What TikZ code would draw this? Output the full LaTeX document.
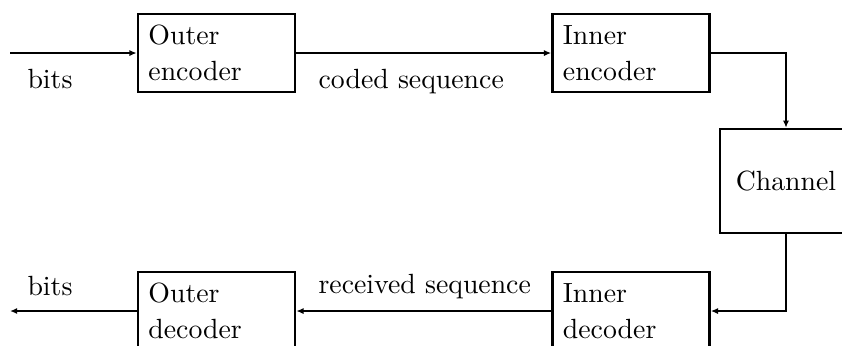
\documentclass[tikz,border=0pt]{standalone}
\usetikzlibrary{arrows.meta}
\begin{document}
\begin{tikzpicture}[x=0.36pt,y=-0.36pt,
  blk/.style={draw,line width=0.95pt,minimum width=56.5pt,minimum height=28.1pt,
    text width=49pt,align=left,inner sep=3.6pt,font=\fontsize{10}{13}\selectfont},
  chanbox/.style={draw,line width=0.95pt,minimum width=47.5pt,minimum height=37.4pt,inner sep=0pt},
  lbl/.style={inner sep=0pt,anchor=base west},
  conn/.style={line width=0.9pt,-{Latex[length=2.6pt,width=2.2pt]}}]
\useasboundingbox (0,0) rectangle (842,345);
\clip (0,0) rectangle (842,345);
\node[blk] (oenc) at (216.5,53) {Outer\\encoder};
\node[blk] (ienc) at (631,53) {Inner\\encoder};
\node[chanbox] (chan) at (786,181) {Channel};
\node[blk] (idec) at (631,311) {Inner\\decoder};
\node[blk] (odec) at (216.5,311) {Outer\\decoder};
\coordinate (in) at (10,53);
\coordinate (out) at (10,311);
\draw[conn] (in) -- (oenc.west);
\draw[conn] (oenc.east) -- (ienc.west);
\draw[conn] (ienc.east) -| (chan.north);
\draw[conn] (chan.south) |- (idec.east);
\draw[conn] (idec.west) -- (odec.east);
\draw[conn] (odec.west) -- (out);
\node[lbl] (b1) at (27,88) {bits};
\node[lbl] (cs) at (318,88) {coded sequence};
\node[lbl] (rs) at (318,293) {received sequence};
\node[lbl] (b2) at (27,295) {bits};
\end{tikzpicture}
\end{document}
